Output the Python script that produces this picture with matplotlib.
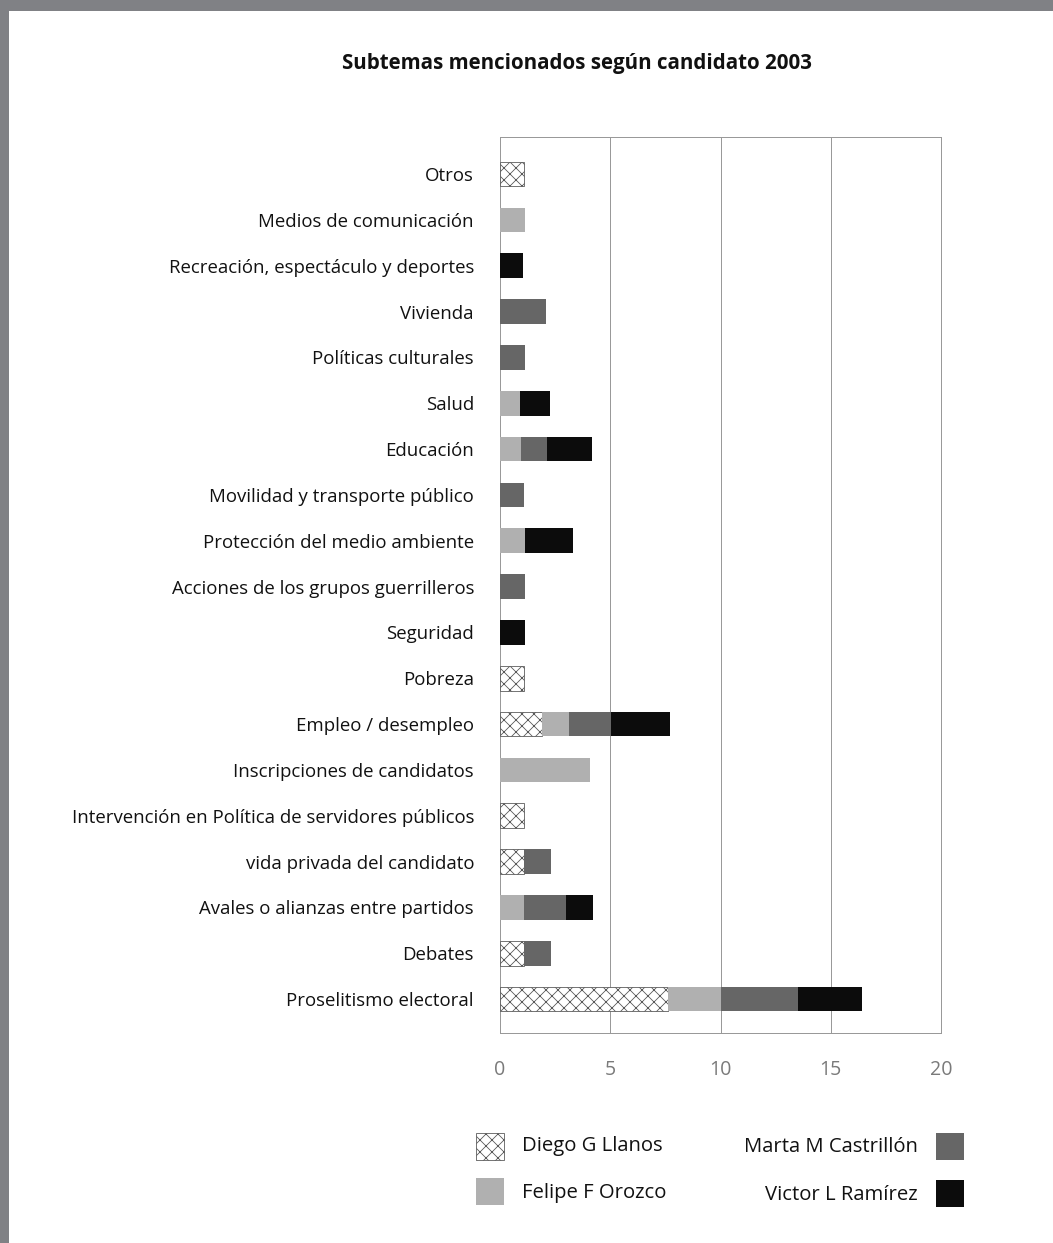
import matplotlib
matplotlib.use('Agg')
import matplotlib.pyplot as plt
import numpy as np

plt.rcParams['font.family'] = ['Open Sans', 'DejaVu Sans']
plt.rcParams['hatch.linewidth'] = 0.8

# categories, top to bottom as in the chart
categories = [
    "Otros",
    "Medios de comunicación",
    "Recreación, espectáculo y deportes",
    "Vivienda",
    "Políticas culturales",
    "Salud",
    "Educación",
    "Movilidad y transporte público",
    "Protección del medio ambiente",
    "Acciones de los grupos guerrilleros",
    "Seguridad",
    "Pobreza",
    "Empleo / desempleo",
    "Inscripciones de candidatos",
    "Intervención en Política de servidores públicos",
    "vida privada del candidato",
    "Avales o alianzas entre partidos",
    "Debates",
    "Proselitismo electoral",
]

diego  = [1.1, 0, 0, 0, 0, 0, 0, 0, 0, 0, 0, 1.1, 1.9, 0, 1.1, 1.1, 0, 1.1, 7.6]
felipe = [0, 1.15, 0, 0, 0, 0.9, 0.95, 0, 1.15, 0, 0, 0, 1.25, 4.1, 0, 0, 1.1, 0, 2.4]
marta  = [0, 0, 0, 2.1, 1.15, 0, 1.2, 1.1, 0, 1.15, 0, 0, 1.9, 0, 0, 1.2, 1.9, 1.2, 3.5]
victor = [0, 0, 1.05, 0, 0, 1.35, 2.0, 0, 2.15, 0, 1.15, 0, 2.65, 0, 0, 0, 1.2, 0, 2.9]

names = ["Diego G Llanos", "Felipe F Orozco", "Marta M Castrillón", "Victor L Ramírez"]
xticks = [0, 5, 10, 15, 20]

fig = plt.figure(figsize=(1053 / 72, 1243 / 72), dpi=72)
fig.patch.set_facecolor('white')

# gray page border (top and left)
fig.patches.append(plt.Rectangle((0, 1 - 10 / 1243), 1, 10 / 1243, transform=fig.transFigure,
                                 color='#808185', zorder=0))
fig.patches.append(plt.Rectangle((0, 0), 8 / 1053, 1, transform=fig.transFigure,
                                 color='#808185', zorder=0))

ax = fig.add_axes([500 / 1053, 1 - 1033 / 1243, 441 / 1053, 896 / 1243])

n = len(categories)
y = np.arange(n)[::-1]
h = 0.54

d = np.array(diego)
f = np.array(felipe)
m = np.array(marta)
v = np.array(victor)

# stacked bars, skipping empty segments so no stray edges are drawn
styles = [
    dict(color='white', edgecolor='#555555', hatch='xx', linewidth=0.8),
    dict(color='#b0b0b0', linewidth=0),
    dict(color='#666666', linewidth=0),
    dict(color='#0c0c0c', linewidth=0),
]
left = np.zeros(n)
for vals, st in zip([d, f, m, v], styles):
    k = vals > 0
    ax.barh(y[k], vals[k], left=left[k], height=h, zorder=3, **st)
    left = left + vals

ax.set_xlim(0, 20)
ax.set_ylim(-0.74, n - 1 + 0.81)
ax.set_xticks(xticks)
ax.set_xticklabels([str(t) for t in xticks])
ax.set_yticks(y)
ax.set_yticklabels(categories)
ax.tick_params(axis='x', length=0, pad=27, labelsize=19.5, labelcolor='#7a7a7a')
ax.tick_params(axis='y', length=0, pad=26, labelsize=18.6, labelcolor='#111111')
ax.grid(axis='x', color='#999999', linewidth=1, zorder=0)
for s in ax.spines.values():
    s.set_color('#999999')
    s.set_linewidth(1)

fig.text(577 / 1053, 1 - 63 / 1243, "Subtemas mencionados según candidato 2003",
         ha='center', va='center', fontsize=20.5, fontweight='bold', color='#111111')

# legend drawn by hand
def lx(px):
    return px / 1053

def ly(py):
    return 1 - py / 1243

sq_w, sq_h = 28 / 1053, 27 / 1243
fig.patches.append(plt.Rectangle((lx(476), ly(1160)), sq_w, sq_h, transform=fig.transFigure,
                                 facecolor='white', edgecolor='#555555', hatch='xx', linewidth=0.8))
fig.patches.append(plt.Rectangle((lx(476), ly(1205)), sq_w, sq_h, transform=fig.transFigure,
                                 facecolor='#b0b0b0', edgecolor='none'))
fig.patches.append(plt.Rectangle((lx(936), ly(1160)), sq_w, sq_h, transform=fig.transFigure,
                                 facecolor='#666666', edgecolor='none'))
fig.patches.append(plt.Rectangle((lx(936), ly(1207)), sq_w, sq_h, transform=fig.transFigure,
                                 facecolor='#0c0c0c', edgecolor='none'))

fig.text(lx(522), ly(1146), names[0], ha='left', va='center', fontsize=20.3, color='#111111')
fig.text(lx(522), ly(1193), names[1], ha='left', va='center', fontsize=20.3, color='#111111')
fig.text(lx(918), ly(1147), names[2], ha='right', va='center', fontsize=20.3, color='#111111')
fig.text(lx(918), ly(1195), names[3], ha='right', va='center', fontsize=20.3, color='#111111')

fig.savefig("out.png", dpi=72, facecolor='white')
